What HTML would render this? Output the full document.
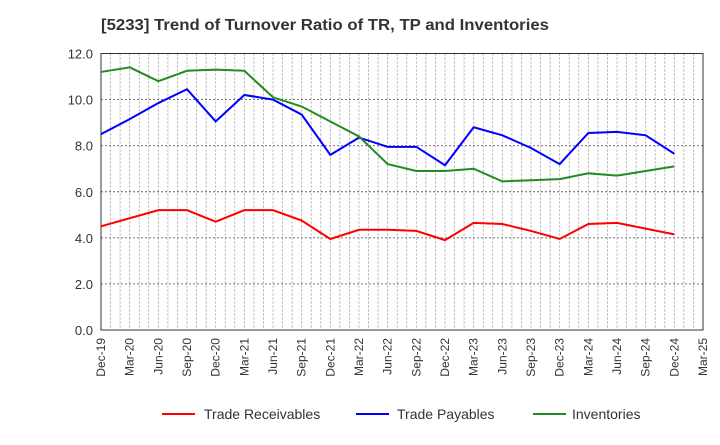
<!DOCTYPE html>
<html><head><meta charset="utf-8"><style>
body{margin:0;background:#fff;font-family:"Liberation Sans",sans-serif}
</style></head><body>
<svg id="c" width="720" height="440" xmlns="http://www.w3.org/2000/svg">
<text x="101" y="30" text-anchor="start" font-size="16" font-weight="bold" fill="#333" textLength="448" lengthAdjust="spacingAndGlyphs">[5233]  Trend of Turnover Ratio of TR, TP and Inventories</text>
<g id="grid"></g><g id="axes"></g><g id="series"></g>
<g>
<line x1="162" y1="414" x2="195" y2="414" stroke="#f00" stroke-width="2"/><text x="204" y="419" font-size="14" fill="#333">Trade Receivables</text>
<line x1="356" y1="414" x2="389" y2="414" stroke="#00f" stroke-width="2"/><text x="397" y="419" font-size="14" fill="#333">Trade Payables</text>
<line x1="533" y1="414" x2="566" y2="414" stroke="#228b22" stroke-width="2"/><text x="572" y="419" font-size="14" fill="#333">Inventories</text>
</g>
</svg>
<script>
const categories=["Dec-19","Mar-20","Jun-20","Sep-20","Dec-20","Mar-21","Jun-21","Sep-21","Dec-21","Mar-22","Jun-22","Sep-22","Dec-22","Mar-23","Jun-23","Sep-23","Dec-23","Mar-24","Jun-24","Sep-24","Dec-24","Mar-25"];
const yTicks=[0,2,4,6,8,10,12];
const tradeReceivables=[4.5,4.85,5.2,5.2,4.7,5.2,5.2,4.75,3.95,4.35,4.35,4.3,3.9,4.65,4.6,4.3,3.95,4.6,4.65,4.4,4.15];
const tradePayables=[8.5,9.15,9.85,10.45,9.05,10.2,10.0,9.35,7.6,8.35,7.95,7.95,7.15,8.8,8.45,7.9,7.2,8.55,8.6,8.45,7.65];
const inventories=[11.2,11.4,10.8,11.25,11.3,11.25,10.1,9.7,9.05,8.4,7.2,6.9,6.9,7.0,6.45,6.5,6.55,6.8,6.7,6.9,7.1];
const L=101,R=703,T=53.5,B=330,NS="http://www.w3.org/2000/svg";
const xs=i=>L+(R-L)*i/(categories.length-1);
const ys=v=>B-(B-T)*v/12;
function mk(p,tag,at){const e=document.createElementNS(NS,tag);for(const k in at)e.setAttribute(k,at[k]);p.appendChild(e);return e;}
const grid=document.getElementById('grid'),axes=document.getElementById('axes'),ser=document.getElementById('series');
const months=(categories.length-1)*3;
for(let m=1;m<months;m++){const x=L+(R-L)*m/months;const l=mk(grid,'line',{x1:x,y1:T,x2:x,y2:B,stroke:'#999','stroke-dasharray':'2,2','stroke-width':0.8});

}
yTicks.forEach(v=>{const y=ys(v);if(v>0&&v<12){const g=mk(grid,'line',{x1:L,y1:y,x2:R,y2:y,stroke:'#666','stroke-dasharray':'2,2','stroke-width':0.9});

}
const t=mk(axes,'text',{x:L-8,y:y+5,'text-anchor':'end','font-size':13,fill:'#333'});t.textContent=v.toFixed(1);

});
const fr=mk(axes,'rect',{x:L,y:T,width:R-L,height:B-T,fill:'none',stroke:'#333','stroke-width':1});


categories.forEach((c,i)=>{const x=xs(i);const t=mk(axes,'text',{x:x+4,y:B+8,'text-anchor':'end','font-size':12,fill:'#333',transform:`rotate(-90 ${x+4} ${B+8})`});t.textContent=c;

});
[[tradeReceivables,'#f00','trade-receivables-line'],[tradePayables,'#00f','trade-payables-line'],[inventories,'#228b22','inventories-line']].forEach(([d,col,n])=>{
const p=mk(ser,'polyline',{points:d.map((v,i)=>xs(i)+','+ys(v)).join(' '),fill:'none',stroke:col,'stroke-width':2});

});
</script>
</body></html>
